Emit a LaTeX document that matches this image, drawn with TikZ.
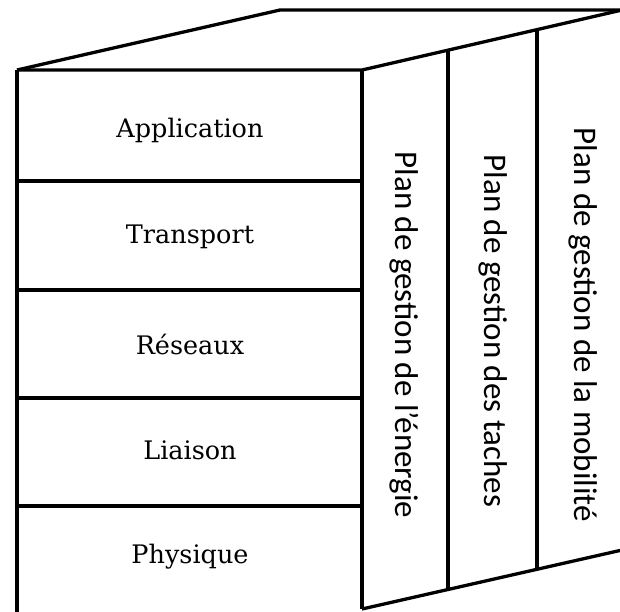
\documentclass[tikz,border=0pt]{standalone}
\usepackage{fontspec}
\setmainfont{DejaVu Serif}
\newfontfamily\planfont{Carlito}
\usetikzlibrary{calc}

\begin{document}
\begin{tikzpicture}[x=1pt, y=-1pt, line width=3.3pt, line join=miter,
  edge/.style={draw=black},
  layer/.style={font=\fontsize{25.5}{30}\selectfont, inner sep=0pt},
  plan/.style={rotate=-90, font=\planfont\fontsize{33}{38}\selectfont, inner sep=0pt}]
\useasboundingbox (0,0) rectangle (620,611);
\clip (0,0) rectangle (620,611);

% corners of the block
\coordinate (ftl) at (17,70);
\coordinate (ftr) at (362,70);
\coordinate (fbl) at (17,614);
\coordinate (fbr) at (362,609);
\coordinate (btl) at (280,10);
\coordinate (btr) at (622,10);
\coordinate (bbr) at (622,550);

% top face
\draw[edge] (ftl) -- (btl) -- (btr);
\draw[edge] (ftl) -- (ftr) -- (btr);

% front face with its layers
\draw[edge] (ftl) -- (fbl);
\draw[edge] (ftr) -- (fbr);
\foreach \y in {181, 290, 398, 506}
  \draw[edge] (17,\y) -- (362,\y);

% right face with the management planes
\draw[edge] (fbr) -- (bbr);
\coordinate (t1) at ($(ftr)!0.331!(btr)$);
\coordinate (b1) at ($(fbr)!0.331!(bbr)$);
\coordinate (t2) at ($(ftr)!0.673!(btr)$);
\coordinate (b2) at ($(fbr)!0.673!(bbr)$);
\draw[edge] (t1) -- (b1);
\draw[edge] (t2) -- (b2);

% layer names
\node[layer] (app)  at (190,130) {Application};
\node[layer] (tra)  at (190,237) {Transport};
\node[layer] (res)  at (190,344) {Réseaux};
\node[layer] (lia)  at (190,450) {Liaison};
\node[layer] (phy)  at (190,557) {Physique};

% plane names
\node[plan] (pen) at (404,335) {Plan de gestion de l’énergie};
\node[plan] (pta) at (493,331) {Plan de gestion des taches};
\node[plan] (pmo) at (583,325) {Plan de gestion de la mobilité};
\end{tikzpicture}
\end{document}
